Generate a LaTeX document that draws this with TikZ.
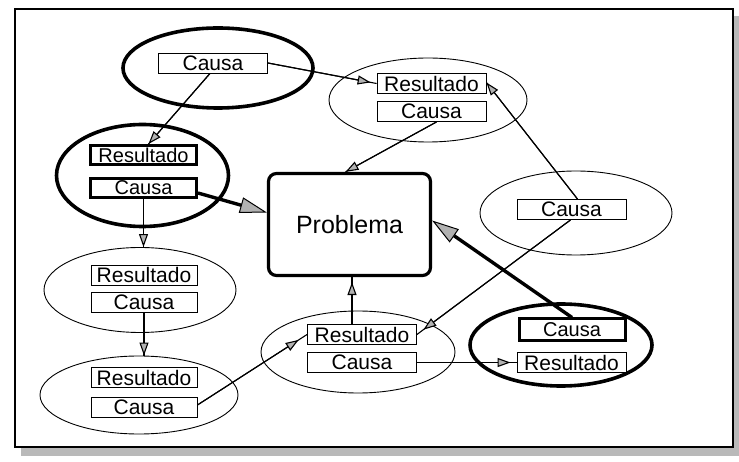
\documentclass[tikz,border=0pt]{standalone}
\usepackage{fontspec}
\setmainfont{Liberation Sans}
\usetikzlibrary{shapes.geometric,arrows.meta}
\begin{document}
\begin{tikzpicture}[x=1pt,y=-1pt,
  oval/.style={ellipse, draw, line width=3.6pt, inner sep=0pt},
  ovalthin/.style={ellipse, draw, line width=0.9pt, inner sep=0pt},
  box/.style={draw, line width=0.9pt, fill=white, minimum width=109pt,
    minimum height=20pt, inner sep=0pt, font=\fontsize{21}{21}\selectfont},
  boxthick/.style={box, line width=3pt, minimum width=106pt, minimum height=19pt,
    font=\fontsize{20}{20}\selectfont},
  problem/.style={draw, line width=3.2pt, rounded corners=8pt, fill=white,
    minimum width=162pt, minimum height=102pt, inner sep=0pt,
    font=\fontsize{25}{25}\selectfont},
  link/.style={draw, line width=1.1pt},
  tipped/.style={link, postaction={draw, line width=1.1pt,
    -{Triangle[length=13pt,width=9pt,fill=gray!60]}, shorten >=#1}},
  tipped/.default=0pt,
  heavy/.style={draw, line width=3.4pt,
    -{Triangle[length=27pt,width=16pt,fill=gray!60,line width=1pt]}}
]
\useasboundingbox (0,0) rectangle (739,462);

% page frame with drop shadow
\fill[gray!55] (21,16) rectangle (739,456);
\draw[line width=1.3pt, fill=white] (15,9) rectangle (733,447);

% groups
\node[oval,    minimum width=190pt, minimum height=80pt]  (e1) at (218,68) {};
\node[ovalthin,minimum width=198pt, minimum height=84pt]  (e2) at (428,100) {};
\node[oval,    minimum width=172pt, minimum height=102pt] (e3) at (142.5,175.5) {};
\node[ovalthin,minimum width=192pt, minimum height=85pt]  (e4) at (140,290) {};
\node[ovalthin,minimum width=192pt, minimum height=84pt]  (e5) at (576,213) {};
\node[ovalthin,minimum width=198pt, minimum height=78pt]  (e6) at (139,395) {};
\node[ovalthin,minimum width=194pt, minimum height=82pt]  (e7) at (358,352) {};
\node[oval,    minimum width=182pt, minimum height=82pt]  (e8) at (561,345) {};

% central problem
\node[problem] (prob) at (349.5,224.5) {Problema};

% cause / result boxes
\node[box] (b1) at (213,63) {Causa};
\node[box] (r2) at (431.5,83.5) {Resultado};
\node[box] (c2) at (431.5,111.5) {Causa};
\node[boxthick] (r3) at (143.5,155) {Resultado};
\node[boxthick] (c3) at (143.5,188) {Causa};
\node[box] (c5) at (571.5,209.5) {Causa};
\node[box,minimum width=106pt] (r4) at (144,275) {Resultado};
\node[box,minimum width=106pt] (c4) at (144,302.5) {Causa};
\node[box,minimum width=106pt] (r6) at (144,377.5) {Resultado};
\node[box,minimum width=106pt] (c6) at (144,407) {Causa};
\node[box] (r7) at (362,334.5) {Resultado};
\node[box] (c7) at (362,362.5) {Causa};
\node[boxthick, minimum height=22pt] (c8) at (572,330) {Causa};
\node[box] (r8) at (571.5,362.5) {Resultado};

% connectors
\draw[tipped=6pt] (b1.east) -- (r2.west);
\draw[tipped] ([xshift=-3pt]b1.south) -- ([xshift=5pt]r3.north);
\draw[heavy] ([yshift=-5pt]c3.east) -- ([yshift=12pt]prob.west);
\draw[tipped] ([xshift=5pt]c2.south) -- ([xshift=-4pt]prob.north);
\draw[tipped] ([xshift=6pt]c5.north) -- ([yshift=1pt]r2.east);
\draw[tipped=8pt] ([xshift=-1pt]c5.south) -- (r7.east);
\draw[heavy] (c8.north) -- ([yshift=4pt]prob.east);
\draw[tipped] (c3.south) -- (c3.south |- e4.north);
\draw[tipped] (c4.south) -- (c4.south |- e6.north);
\draw[tipped=10pt] ([yshift=2pt]c6.east) -- (r7.west);
\draw[tipped=5pt] ([xshift=-10pt]r7.north) -- ([xshift=-10pt]r7.north |- prob.south);
\draw[tipped=6pt] (c7.east) -- (r8.west);
\end{tikzpicture}
\end{document}
